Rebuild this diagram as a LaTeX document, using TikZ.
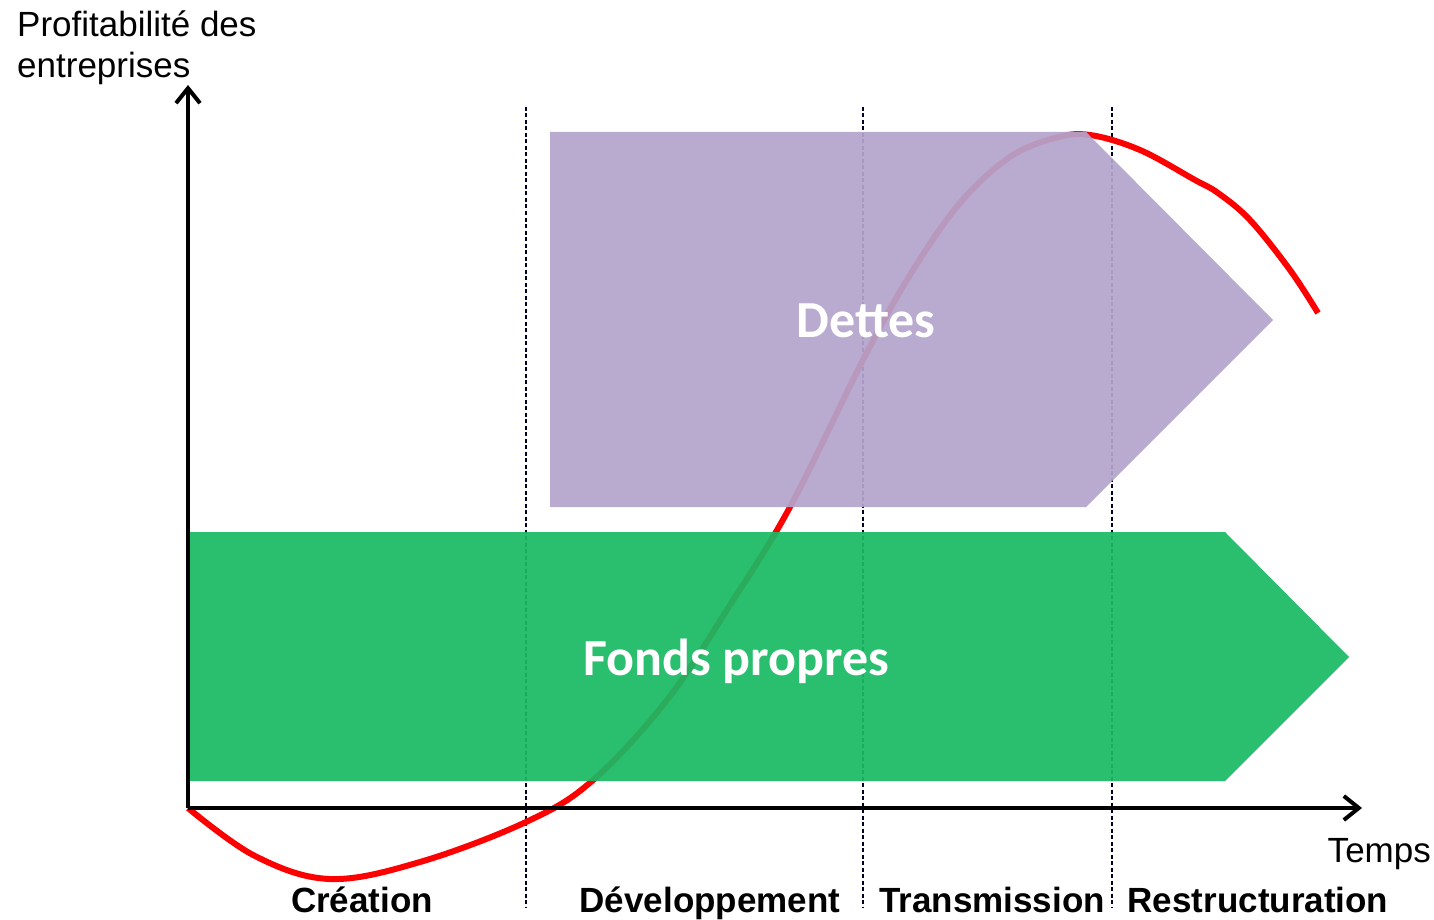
\documentclass[tikz,border=0pt]{standalone}
\usepackage{fontspec}
\setmainfont{Liberation Sans}
\newfontfamily\calib{Carlito}
\usetikzlibrary{arrows.meta}
\definecolor{dettecol}{RGB}{180,164,204}
\definecolor{fondscol}{RGB}{26,186,100}
\definecolor{curvecol}{RGB}{255,0,0}
\tikzset{
  axisline/.style={line width=4pt,-{Straight Barb[length=15pt,width=24pt,line width=4pt]}},
  phaseline/.style={line width=1.5pt,dash pattern=on 4pt off 2.5pt,color=black!85!blue},
  bandshape/.style={draw=none,fill opacity=0.93},
  bandtext/.style={text=white,font=\calib\bfseries\fontsize{52}{62}\selectfont,inner sep=0},
  phasetext/.style={font=\bfseries\fontsize{35}{38}\selectfont,anchor=base,inner sep=0},
  axistext/.style={font=\fontsize{35}{41}\selectfont,inner sep=0},
}
\begin{document}
\begin{tikzpicture}[x=1pt,y=-1pt]
\useasboundingbox (0,0) rectangle (1434,920);
% phase separators
\coordinate (d1t) at (526,107); \coordinate (d1b) at (526,908);
\coordinate (d2t) at (863,107); \coordinate (d2b) at (863,908);
\coordinate (d3t) at (1112,107); \coordinate (d3b) at (1112,908);
\draw[phaseline] (d1t) -- (d1b);
\draw[phaseline] (d2t) -- (d2b);
\draw[phaseline] (d3t) -- (d3b);
% profitability curve
\draw[curvecol,line width=6pt,line cap=butt] plot[smooth,tension=0.6] coordinates {
 (188,808) (255,856) (330,879) (420,862) (526,822) (592,781) (667,700)
 (730,605) (790,507) (863,360) (910,275) (960,203) (1010,157)
 (1055,138) (1090,135) (1140,150) (1195,180) (1218,193) (1250,220)
 (1290,270) (1318,313)};
% Dettes band
\fill[dettecol,bandshape] (550,132) -- (1086,132) -- (1273,320) -- (1086,507) -- (550,507) -- cycle;
% Fonds propres band
\fill[fondscol,bandshape] (188,532) -- (1225,532) -- (1349,657) -- (1225,781) -- (188,781) -- cycle;
\node[bandtext,anchor=base] (dettes) at (866,337) {Dettes};
\node[bandtext,anchor=base] (fonds) at (736,675) {Fonds propres};
% axes
\coordinate (o) at (188,808);
\coordinate (ytip) at (188,85);
\coordinate (xtip) at (1362,808);
\draw[axisline] (o) -- (ytip);
\draw[axisline] (o) -- (xtip);
% labels
\node[axistext,anchor=base west,align=left] (ylab) at (17,78) {Profitabilité des\\entreprises};
\node[axistext,anchor=base east] (xlab) at (1431,862) {Temps};
\node[phasetext] (p1) at (362,912) {Création};
\node[phasetext] (p2) at (710,912) {Développement};
\node[phasetext] (p3) at (992,912) {Transmission};
\node[phasetext] (p4) at (1258,912) {Restructuration};
\end{tikzpicture}
\end{document}
